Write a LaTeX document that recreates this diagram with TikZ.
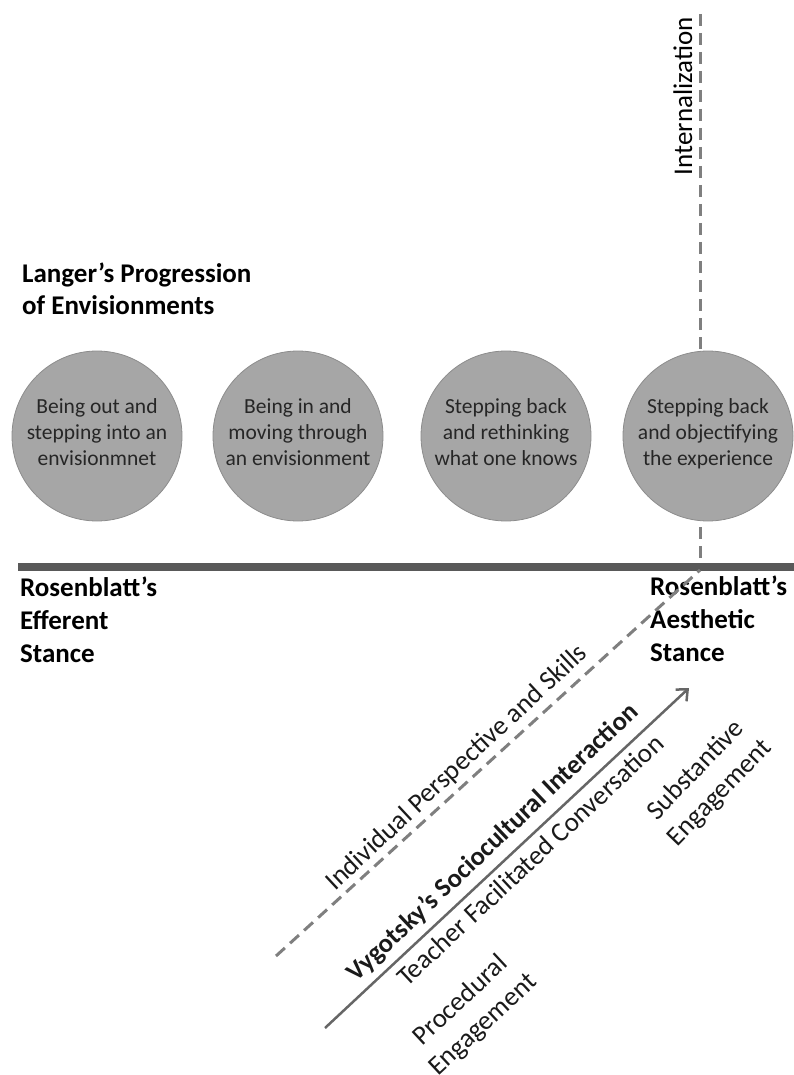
\documentclass[tikz,border=0pt]{standalone}
\usepackage{fontspec}
\setmainfont{Carlito}
\usetikzlibrary{arrows.meta}

\definecolor{circfill}{HTML}{A6A6A6}
\definecolor{circline}{HTML}{8C8C8C}
\definecolor{circtext}{HTML}{262626}
\definecolor{dashgray}{HTML}{7F7F7F}
\definecolor{bargray}{HTML}{595959}
\definecolor{arrowgray}{HTML}{666666}
\definecolor{labeltext}{HTML}{1A1A1A}

\tikzset{
  envision/.style={circle, minimum size=170pt, inner sep=0pt, fill=circfill,
    draw=circline, line width=0.8pt, align=center, text=circtext,
    font=\fontsize{21.5}{26}\selectfont,
    execute at begin node=\strut, execute at end node=\strut},
  % base anchor of a multi-line node sits on its last line
  stance/.style={anchor=base west, align=left, inner sep=0pt,
    font=\fontsize{27}{33}\selectfont\bfseries},
  dashline/.style={draw=dashgray, line width=3pt, dash pattern=on 12pt off 7pt},
  slanted/.style={rotate=#1, align=center, inner sep=0pt, text=labeltext,
    font=\fontsize{27}{33}\selectfont},
  slanted/.default=43,
}

\begin{document}
\begin{tikzpicture}[x=1pt,y=-1pt]
  \useasboundingbox (0,0) rectangle (794,1075);

  % Internalization axis (goes behind the last circle)
  \coordinate (itop) at (700,14);
  \coordinate (imeet) at (700,567);
  \draw[dashline] (itop) -- (imeet);
  \node[rotate=90, anchor=base, inner sep=0pt,
    font=\fontsize{27}{33}\selectfont] (intern) at (692,96) {Internalization};

  % Langer's envisionments
  \node[stance, font=\fontsize{27}{32}\selectfont\bfseries] (langer)
    at (22,314) {Langer’s Progression\\of Envisionments};
  \foreach \i/\x/\txt in {1/97/{Being out and\\stepping into an\\envisionmnet},
      2/298/{Being in and\\moving through\\an envisionment},
      3/506/{Stepping back\\and rethinking\\what one knows},
      4/708/{Stepping back\\and objectifying\\the experience}}{
    \node[envision] (c\i) at (\x,436) {\txt};
  }

  % the stance bar
  \coordinate (barl) at (18,567);
  \coordinate (barr) at (794,567);
  \draw[draw=bargray, line width=8pt] (barl) -- (barr);
  \node[stance] (efferent) at (20,662) {Rosenblatt’s\\Efferent\\Stance};
  \node[stance] (aesthetic) at (650,661) {Rosenblatt’s\\Aesthetic\\Stance};

  % Two diagonals: individual and sociocultural
  \coordinate (dlow) at (276,956);
  \coordinate (dmeet) at (700,570);
  \draw[dashline] (dlow) -- (dmeet);
  \coordinate (alow) at (325,1028);
  \coordinate (ahigh) at (689,688);
  \draw[draw=arrowgray, line width=2.5pt,
    -{Straight Barb[length=9pt,width=16pt]}] (alow) -- (ahigh);

  \node[slanted] (indiv) at (457,768) {Individual Perspective and Skills};
  \node[slanted=43.5, font=\fontsize{26.5}{30}\selectfont\bfseries] (vygotsky)
    at (493,843) {Vygotsky’s Sociocultural Interaction};
  \node[slanted] (teacher) at (530,860) {Teacher Facilitated Conversation};
  \node[slanted] (procedural) at (472,1013) {Procedural\\Engagement};
  \node[slanted=46] (substantive) at (708,782) {Substantive\\Engagement};
\end{tikzpicture}
\end{document}
